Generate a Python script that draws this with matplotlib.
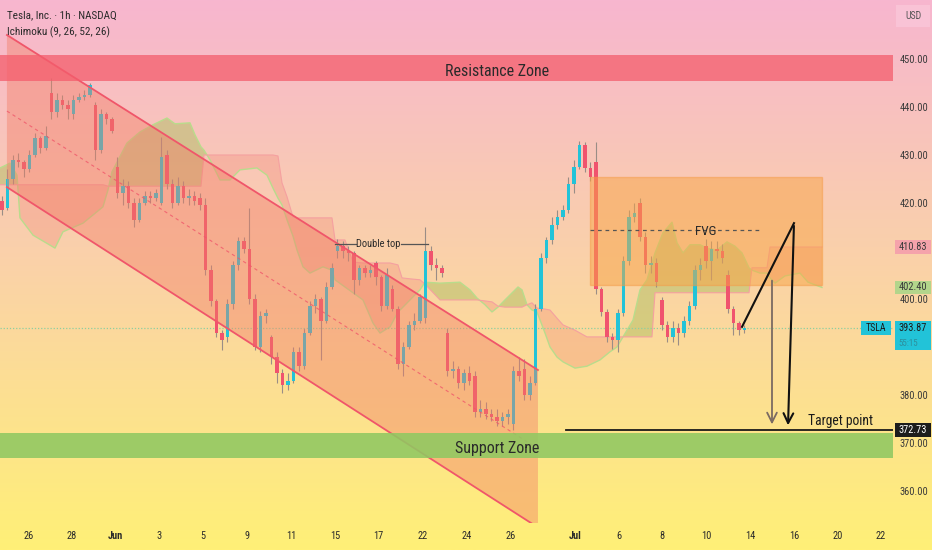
import numpy as np
import matplotlib
matplotlib.use("Agg")
import matplotlib.pyplot as plt
from matplotlib import font_manager
from matplotlib.colors import LinearSegmentedColormap
from matplotlib.patches import Rectangle, Polygon

# pick a narrow face if one is installed
fonts = font_manager.fontManager.ttflist
names = {f.name for f in fonts}
narrow = None
for n in ['Liberation Sans Narrow', 'Roboto Condensed', 'Open Sans Condensed', 'Noto Sans Condensed']:
    if n in names:
        narrow = n
        break
stretch = 'normal'
if narrow is None:
    if any(f.name == 'DejaVu Sans' and str(f.stretch) in ('condensed', 'semi-condensed', '87.5', '75') for f in fonts):
        narrow = 'DejaVu Sans'
        stretch = 'condensed'
if narrow is None:
    if any(f.name == 'Roboto' and str(f.stretch) == 'condensed' for f in fonts):
        narrow = 'Roboto'
        stretch = 'condensed'
scale = 1.0
if narrow is None:
    narrow = 'Roboto' if 'Roboto' in names else 'DejaVu Sans'
    scale = 0.88
plt.rcParams['font.family'] = [narrow, 'DejaVu Sans']
plt.rcParams['font.stretch'] = stretch

# ---------------- candles (1h, TSLA) ----------------
opens = [420.5, 419, 425, 429, 428.5, 427, 430, 433.5, 431.5, 443,
         439, 441.5, 440.5, 438.5, 441.5, 442, 442.5, 440.5, 431, 438.5,
         437.5, 427.5, 422, 423.5, 420, 416.5, 420, 421.5, 421, 420,
         430, 424, 420, 423.5, 421, 421.5, 421, 419.5, 406, 399.5,
         393, 392, 399, 407, 412, 410.5, 400, 390, 396.5, 392,
         388, 384.5, 382, 383, 389, 386, 393, 398.5, 400, 395.5,
         402.5, 410, 411, 410, 409.5, 404, 406.5, 405.5, 407.5, 404.5,
         398.5, 402, 398, 386.5, 390, 394.5, 395.5, 396, 410, 407,
         406.5, 393, 385, 385.5, 382.5, 384.5, 384, 376.5, 377, 376,
         375.5, 374.5, 375.5, 374, 385, 385.5, 380, 382.5, 398, 408.5,
         412.3, 415.5, 417, 418.5, 424, 427.5, 432, 427.3, 428.5, 402,
         397.3, 392, 391.5, 397, 408, 417, 420, 413, 407, 407.5,
         399.8, 394.5, 392, 394, 393, 395.5, 398.5, 406, 411, 408,
         410.5, 410, 405, 398, 395, 393.5]
highs = [421.5, 427, 430, 430.5, 429, 431, 434.5, 434, 436, 446,
         443, 442.5, 441.5, 442.5, 443, 443.5, 445, 441, 439.5, 439,
         438, 429.5, 425, 424.5, 421, 421, 422.5, 422.5, 423, 433.7,
         431, 425, 425.5, 424.5, 423, 422.5, 422, 421, 407, 400,
         393.5, 400, 408, 413, 413, 419, 401, 397.5, 398, 392.5,
         389, 385.5, 384.5, 390, 390, 394, 399.5, 401, 400.5, 403.5,
         407.5, 412.5, 412, 411, 410, 407, 407, 407, 408, 405,
         406.5, 403, 398.5, 391, 395.5, 397, 401, 415, 411, 408.5,
         407, 394, 387, 386, 385.5, 386, 385, 379, 378.5, 377,
         377, 376.5, 377, 386, 388, 387.5, 384, 399, 409.5, 413,
         417, 418.5, 419.5, 425.5, 429, 433, 432.7, 428.5, 432.7, 402.5,
         398, 393, 398, 409, 418.5, 420, 421, 414, 409, 408.5,
         400.5, 395.5, 395.5, 395, 396.5, 399.5, 407, 408.5, 412.5, 412,
         412, 411.5, 406, 398.5, 395.5, 394.5]
lows = [417.5, 418.5, 424, 427.5, 425.5, 426.5, 429.5, 430.5, 431, 437.5,
        438, 439.5, 437.5, 437.5, 441, 441.5, 442, 429, 430.5, 436.5,
        434.5, 421, 419.5, 419, 415, 416, 419.5, 420, 420.5, 419.5,
        423, 419, 419.5, 420, 419.5, 419.5, 418.5, 405, 398.5, 392,
        389.4, 391, 398, 406, 409.5, 399, 389.4, 389, 395, 386.5,
        382.5, 380.5, 381, 382.5, 385, 385.5, 392.5, 397, 387.3, 395,
        402, 408.5, 408.5, 408, 401, 403, 404.5, 404.5, 403, 397.5,
        398, 397.5, 385.5, 384, 389.5, 393.5, 395, 395, 406, 404,
        404.5, 384, 383.5, 381.5, 381, 382, 375.5, 375.5, 375, 374.5,
        373.5, 373.5, 374, 372.7, 383, 379, 379, 382, 397.5, 407.5,
        411.5, 414.5, 416.5, 418, 422, 427, 426.5, 424.5, 401, 396.5,
        391, 389.5, 389, 396.5, 407, 416, 412, 405.5, 405.5, 402.5,
        393.5, 391, 391, 390.5, 392, 394.5, 398, 404, 406.5, 404,
        408.5, 407.5, 397, 392.5, 392.5, 393]
closes = [418.5, 425, 429, 428.5, 427, 430, 433.5, 431.5, 434, 439,
          441.5, 440.5, 439.5, 441.5, 442, 442.5, 444.5, 431, 438.5, 437.5,
          435, 422, 423.5, 420, 416.5, 420, 421.5, 421, 422, 429.5,
          424, 420, 423.5, 421, 421.5, 420.5, 419.5, 406, 399.5, 393,
          391.5, 399, 407, 412, 410.5, 400, 390, 396.5, 397, 388,
          384.5, 382, 383, 389, 386, 393, 398.5, 400, 395.5, 402.5,
          406.5, 411, 410, 409.5, 404, 406.5, 405.5, 406, 404.5, 398.5,
          405, 398, 386.5, 390, 394.5, 395.5, 400.5, 410, 407, 406.5,
          405.5, 385, 385.5, 382.5, 384.5, 383, 376.5, 377, 376, 375.5,
          374.5, 375.5, 376, 385, 384, 380, 382.5, 398, 408.5, 412.3,
          415.5, 417, 418.5, 424, 427.5, 432, 427.3, 425.5, 402, 397.3,
          392, 391.5, 397, 408, 417, 418, 413, 407, 407.5, 403.5,
          394.5, 392, 394, 393, 395.5, 398.5, 406, 407, 408, 410.5,
          410, 408.5, 398, 395, 393.5, 393.87]

# ---------------- Ichimoku cloud (lead lines) ----------------
cloud_x = [-0.36, 1.45, 2.73, 3.27, 5.64, 9.64, 11.09, 14.73, 18.36, 19.27,
           20.0, 22.73, 25.09, 27.45, 30.0, 31.45, 34.18, 35.09, 36.18, 36.73,
           37.82, 39.64, 41.45, 43.27, 46.36, 48.18, 49.27, 50.18, 50.91, 51.82,
           52.91, 53.64, 54.73, 56.0, 58.36, 60.0, 60.55, 62.36, 63.82, 65.64,
           67.45, 68.73, 70.55, 72.0, 72.73, 74.18, 76.0, 76.91, 79.64, 83.27,
           85.09, 86.36, 87.82, 89.09, 90.18, 91.45, 93.82, 94.55, 95.45, 96.36,
           97.27, 98.73, 99.64, 100.91, 102.0, 104.18, 106.36, 108.73, 110.55, 111.82,
           112.91, 114.73, 116.0, 117.27, 118.18, 118.73, 120.18, 121.82, 122.73, 123.82,
           125.09, 126.91, 128.18, 130.0, 131.82, 133.27, 134.55, 135.82, 136.36, 137.82,
           139.09, 139.64, 140.55, 142.36, 145.09, 146.55, 149.09]
span_a = [427.3, 428.3, 425.8, 416.9, 413.3, 410.6, 414.0, 415.8, 419.2, 422.7,
          426.5, 432.5, 434.8, 436.3, 437.7, 436.5, 436.7, 434.2, 431.7, 431.0,
          429.0, 424.8, 424.8, 426.9, 427.3, 425.8, 423.1, 421.0, 419.6, 416.5,
          413.1, 410.2, 406.7, 405.4, 406.7, 406.0, 404.0, 402.5, 401.3, 399.8,
          395.0, 392.9, 394.2, 397.3, 398.1, 399.8, 401.9, 403.5, 403.3, 403.5,
          401.9, 400.2, 398.8, 397.3, 398.3, 399.8, 402.5, 401.9, 398.8, 397.7,
          397.3, 392.9, 390.0, 387.9, 386.9, 385.6, 386.0, 387.3, 389.0, 390.0,
          392.1, 395.6, 401.9, 404.0, 407.5, 409.6, 413.8, 416.0, 411.7, 409.6,
          411.3, 411.3, 410.6, 410.2, 411.9, 411.0, 409.6, 406.5, 406.0, 405.4,
          405.4, 404.4, 403.3, 404.8, 405.4, 403.5, 402.4]
span_b = [423.8, 423.8, 423.8, 423.8, 423.8, 423.8, 423.8, 423.8, 423.8, 423.5,
          423.5, 423.5, 423.5, 423.5, 423.5, 423.5, 423.5, 423.5, 423.5, 430.0,
          430.0, 430.0, 430.0, 430.0, 430.0, 430.0, 430.0, 429.8, 424.2, 421.3,
          417.1, 416.9, 416.9, 416.9, 416.9, 416.9, 412.3, 412.3, 407.7, 407.5,
          407.5, 407.5, 407.5, 407.1, 404.4, 404.2, 404.0, 403.1, 399.8, 399.8,
          399.8, 399.8, 399.6, 399.4, 398.5, 398.3, 398.3, 398.3, 398.8, 399.2,
          398.1, 397.9, 397.7, 396.0, 394.6, 393.5, 392.1, 392.1, 392.1, 392.1,
          392.1, 392.1, 392.1, 392.1, 392.1, 401.3, 401.3, 401.3, 401.3, 401.3,
          401.3, 401.3, 401.3, 401.3, 401.3, 401.3, 401.3, 401.3, 406.5, 406.5,
          406.5, 410.83, 410.83, 410.83, 410.83, 410.83, 410.83]

# ---------------- drawings ----------------
resistance = (445.4, 450.8)
support = (366.9, 372.1)
channel_x = [0.9, 97.45]
channel_top = [455.0, 385.2]
channel_bottom = [423.3, 352.4]
fvg_x = [106.9, 149.1]
fvg_y = [402.9, 425.4]
fvg_mid = 414.4
fvg_mid_end = 137.8
target = 372.73
last_price = 393.87
ichi_b_last, ichi_a_last = 410.83, 402.40
zig_x = [134.55, 144.0, 142.9]
zig_y = [394.2, 415.8, 373.1]
drop_x = 140.0
drop_y = [404.4, 373.3]
double_top = 411.5

tick_pos = [4.8, 12.6, 20.7, 28.6, 36.6, 44.6, 52.6, 60.6, 68.4, 76.4,
            84.4, 92.4, 104.2, 112.2, 120.0, 128.0, 136.0, 144.0, 152.0, 159.8]
tick_lab = ['26', '28', 'Jun', '3', '5', '9', '11', '15', '17', '22',
            '24', '26', 'Jul', '6', '8', '10', '14', '16', '20', '22']
# 390 and 410 sit under the price tags
price_ticks = [360, 370, 380, 400, 420, 430, 440, 450]

UP, DOWN, WICK = '#22c3d8', '#f0536e', '#9a8d86'
fs = lambda v: v * scale

W, H = 932, 550
fig = plt.figure(figsize=(W / 100, H / 100), dpi=100)

# background gradient pink -> peach -> yellow
bg = fig.add_axes([0, 0, 1, 1])
cmap = LinearSegmentedColormap.from_list('bg', [(0.0, '#f7b6cf'), (0.45, '#fad0ab'), (1.0, '#fff077')])
grad = np.linspace(0, 1, 256).reshape(-1, 1)
bg.imshow(grad, aspect='auto', cmap=cmap, extent=[0, 1, 0, 1])
bg.axis('off')

ax = fig.add_axes([0, 27 / H, 893 / W, 523 / H])
ax.patch.set_alpha(0)
ax.set_xlim(-0.36, 162.0)
ax.set_ylim(353.33, 462.29)
for s in ax.spines.values():
    s.set_visible(False)

# cloud
cx = np.array(cloud_x)
sa = np.array(span_a)
sb = np.array(span_b)
ax.fill_between(cx, sa, sb, where=sa >= sb, interpolate=True, color='#a7bd5a', alpha=0.45, lw=0, zorder=1)
ax.fill_between(cx, sa, sb, where=sa < sb, interpolate=True, color='#f28a78', alpha=0.32, lw=0, zorder=1)
ax.plot(cx, sa, color='#b9dc8c', lw=1.0, zorder=1.5)
ax.plot(cx, sb, color='#f5a0a0', lw=0.8, zorder=1.5)

# candles
o = np.array(opens)
c = np.array(closes)
hi = np.array(highs)
lo = np.array(lows)
xs = np.arange(len(o))
cols = np.where(c >= o, UP, DOWN)
ax.vlines(xs, lo, hi, color=WICK, lw=0.8, zorder=2)
body = np.maximum(np.abs(c - o), 0.35)
ax.bar(xs, body, bottom=np.minimum(o, c), width=0.62, color=cols, lw=0, zorder=3)

# current price dotted line
ax.axhline(last_price, color='#8fcf9f', lw=0.9, ls=(0, (1, 1.5)), zorder=2.5)

# descending channel
poly = Polygon([(channel_x[0], channel_top[0]), (channel_x[1], channel_top[1]),
                (channel_x[1], channel_bottom[1]), (channel_x[0], channel_bottom[0])],
               closed=True, facecolor='#f27d66', alpha=0.42, lw=0, zorder=4)
ax.add_patch(poly)
ax.plot(channel_x, channel_top, color='#f0566a', lw=1.3, zorder=4.5)
ax.plot(channel_x, channel_bottom, color='#f0566a', lw=1.3, zorder=4.5)
ax.plot(channel_x, [(channel_top[0] + channel_bottom[0]) / 2, (channel_top[1] + channel_bottom[1]) / 2],
        color='#f0566a', lw=0.8, ls=(0, (3, 3)), alpha=0.8, zorder=4.5)

# zones
ax.axhspan(*resistance, color='#f45d6c', alpha=0.75, lw=0, zorder=5)
ax.axhspan(*support, color='#90c862', alpha=0.88, lw=0, zorder=5)
ax.text(90, 447.3, 'Resistance Zone', ha='center', va='center', fontsize=fs(11.5), color='#2a2a2a', zorder=7)
ax.text(90, 368.9, 'Support Zone', ha='center', va='center', fontsize=fs(11.5), color='#2a2a2a', zorder=7)

# FVG box
ax.add_patch(Rectangle((fvg_x[0], fvg_y[0]), fvg_x[1] - fvg_x[0], fvg_y[1] - fvg_y[0],
                       facecolor='#f8a445', alpha=0.5, edgecolor='#f59b45', lw=1, zorder=4))
ax.plot([fvg_x[0], fvg_mid_end], [fvg_mid, fvg_mid], color='#555555', lw=0.9, ls=(0, (3, 3)), zorder=6)
ax.text(128, fvg_mid - 0.3, 'FVG', ha='center', va='center', fontsize=fs(9.5), color='#2a2a2a', zorder=7)

# double top
ax.plot([60.5, 64.3], [double_top, double_top], color='#555555', lw=0.9, zorder=6)
ax.plot([72.6, 77.4], [double_top, double_top], color='#555555', lw=0.9, zorder=6)
ax.text(68.4, double_top, 'Double top', ha='center', va='center', fontsize=fs(7.5), color='#2a2a2a', zorder=7)

# projection arrows
ax.plot(zig_x[:2], zig_y[:2], color='#111111', lw=1.5, zorder=8)
ax.annotate('', xy=(zig_x[2], zig_y[2]), xytext=(zig_x[1], zig_y[1]),
            arrowprops=dict(arrowstyle='->,head_length=0.7,head_width=0.35', color='#111111', lw=1.5), zorder=8)
ax.annotate('', xy=(drop_x, drop_y[1]), xytext=(drop_x, drop_y[0]),
            arrowprops=dict(arrowstyle='->,head_length=0.7,head_width=0.35', color='#7a6a62', lw=1.3), zorder=8)

# target
ax.plot([102.5, 162.0], [target, target], color='#1a1a1a', lw=1.3, zorder=8)
ax.text(152.4, target + 0.3, 'Target point', ha='center', va='bottom', fontsize=fs(9.8), color='#1a1a1a', zorder=8)

# axes ticks
ax.yaxis.tick_right()
ax.set_yticks(price_ticks)
ax.set_yticklabels([f'{v:.2f}' for v in price_ticks])
ax.tick_params(axis='y', length=0, pad=5, labelsize=fs(7.5), labelcolor='#3a3a3a')
ax.set_xticks(tick_pos)
ax.set_xticklabels(tick_lab)
ax.tick_params(axis='x', length=0, pad=6, labelsize=fs(7.5), labelcolor='#2a2a2a')
for lab in ax.get_xticklabels():
    if lab.get_text() in ('Jun', 'Jul'):
        lab.set_fontweight('bold')

# right-side price tags
yt = ax.get_yaxis_transform()
def tag(price, fc, tc, text, x0=1.002, w=0.04, up=1.45, down=1.45):
    ax.add_patch(Rectangle((x0, price - down), w, up + down, transform=yt, facecolor=fc,
                           lw=0, clip_on=False, zorder=9))
    ax.text(x0 + 0.004, price, text, transform=yt, ha='left', va='center', fontsize=fs(7.5),
            color=tc, clip_on=False, zorder=10)

tag(ichi_b_last, '#f5a3ab', '#3a3a3a', f'{ichi_b_last:.2f}')
tag(ichi_a_last, '#b3d58b', '#3a3a3a', f'{ichi_a_last:.2f}')
tag(last_price, '#22c3d8', '#1a1a1a', f'{last_price:.2f}', down=4.6)
ax.text(1.006, last_price - 3.1, '55:15', transform=yt, ha='left', va='center', fontsize=fs(6.5),
        color='#2d8f9c', clip_on=False, zorder=10)
tag(target, '#1c1c1c', '#ffffff', f'{target:.2f}')
ax.add_patch(Rectangle((0.964, last_price - 1.45), 0.034, 2.9, transform=yt, facecolor='#22c3d8',
                       lw=0, clip_on=False, zorder=9))
ax.text(0.981, last_price, 'TSLA', transform=yt, ha='center', va='center', fontsize=fs(7),
        color='#1a1a1a', zorder=10)

# header texts
fig.text(7 / W, 1 - 15 / H, 'Tesla, Inc. \u00b7 1h \u00b7 NASDAQ', ha='left', va='center', fontsize=fs(8), color='#2a2a2a')
fig.text(7 / W, 1 - 32 / H, 'Ichimoku (9, 26, 52, 26)', ha='left', va='center', fontsize=fs(8), color='#2a2a2a')
fig.patches.append(Rectangle((896 / W, 1 - 27 / H), 34 / W, 22 / H, transform=fig.transFigure,
                             facecolor='#f9c3d6', lw=0))
fig.text(913 / W, 1 - 16 / H, 'USD', ha='center', va='center', fontsize=fs(7), color='#555555')

fig.savefig('out.png', dpi=100)
